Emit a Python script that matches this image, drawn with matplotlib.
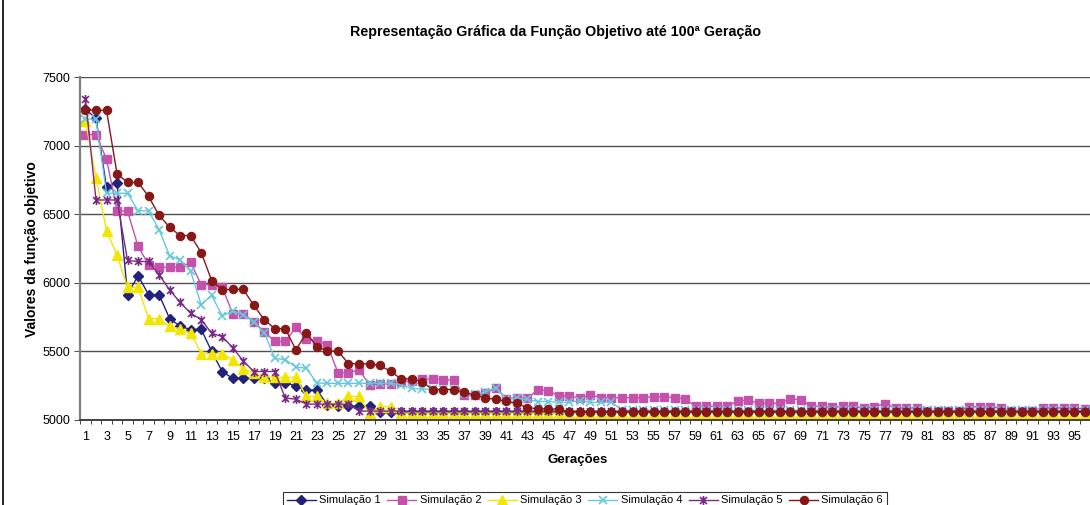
import numpy as np
import matplotlib
matplotlib.use('Agg')
import matplotlib.pyplot as plt
from matplotlib.path import Path
from matplotlib.lines import Line2D


geracoes = list(range(1, 101))

sim1 = [7269, 7201, 6700, 6731, 5915, 6054, 5915, 5915, 5740, 5685,
        5660, 5662, 5500, 5354, 5304, 5304, 5304, 5304, 5272, 5272,
        5248, 5219, 5219, 5110, 5101, 5101, 5101, 5100, 5058, 5058,
        5058, 5058, 5058, 5058, 5058, 5058, 5058, 5058, 5058, 5058,
        5058, 5058, 5058, 5058, 5058, 5058, 5058, 5058, 5058, 5058,
        5058, 5058, 5058, 5058, 5058, 5058, 5058, 5058, 5058, 5058,
        5058, 5058, 5058, 5058, 5058, 5058, 5058, 5058, 5058, 5058,
        5058, 5058, 5058, 5058, 5058, 5058, 5058, 5058, 5058, 5058,
        5058, 5058, 5058, 5058, 5058, 5058, 5058, 5058, 5058, 5058,
        5058, 5058, 5058, 5058, 5058, 5058, 5058, 5058, 5058, 5058]

sim2 = [7083, 7083, 6905, 6529, 6524, 6267, 6135, 6115, 6115, 6115,
        6150, 5987, 5987, 5968, 5776, 5776, 5716, 5645, 5573, 5573,
        5676, 5589, 5580, 5548, 5345, 5345, 5365, 5258, 5263, 5265,
        5280, 5284, 5296, 5300, 5292, 5292, 5182, 5182, 5194, 5236,
        5156, 5160, 5158, 5222, 5213, 5176, 5176, 5157, 5184, 5162,
        5162, 5162, 5163, 5163, 5170, 5170, 5163, 5154, 5100, 5100,
        5100, 5100, 5140, 5146, 5122, 5122, 5122, 5156, 5146, 5100,
        5100, 5092, 5100, 5100, 5087, 5097, 5119, 5088, 5088, 5088,
        5066, 5066, 5066, 5066, 5097, 5097, 5097, 5088, 5066, 5066,
        5066, 5088, 5088, 5088, 5088, 5080, 5080, 5080, 5080, 5080]

sim3 = [7182, 6770, 6383, 6203, 5968, 5968, 5739, 5739, 5683, 5666,
        5634, 5485, 5485, 5485, 5439, 5375, 5340, 5317, 5311, 5311,
        5311, 5172, 5172, 5122, 5122, 5172, 5172, 5050, 5098, 5098,
        5050, 5050, 5050, 5050, 5050, 5050, 5050, 5050, 5050, 5050,
        5050, 5050, 5050, 5050, 5050, 5050, 5050, 5050, 5050, 5050,
        5050, 5050, 5050, 5050, 5050, 5050, 5050, 5050, 5050, 5050,
        5050, 5050, 5050, 5050, 5050, 5050, 5050, 5050, 5050, 5050,
        5050, 5050, 5050, 5050, 5050, 5050, 5050, 5050, 5050, 5050,
        5050, 5050, 5050, 5050, 5050, 5050, 5050, 5050, 5050, 5050,
        5050, 5050, 5050, 5050, 5050, 5050, 5050, 5050, 5050, 5050]

sim4 = [7197, 7197, 6655, 6655, 6655, 6527, 6527, 6388, 6200, 6167,
        6085, 5842, 5910, 5760, 5795, 5770, 5712, 5638, 5450, 5440,
        5388, 5377, 5270, 5268, 5268, 5268, 5268, 5268, 5268, 5268,
        5256, 5230, 5226, 5224, 5224, 5224, 5190, 5190, 5205, 5236,
        5151, 5158, 5151, 5135, 5135, 5129, 5129, 5141, 5129, 5129,
        5129, 5072, 5072, 5072, 5072, 5072, 5072, 5072, 5072, 5072,
        5072, 5072, 5072, 5072, 5072, 5072, 5072, 5072, 5072, 5072,
        5072, 5072, 5072, 5072, 5072, 5072, 5072, 5072, 5072, 5072,
        5072, 5072, 5072, 5072, 5072, 5072, 5072, 5072, 5072, 5072,
        5072, 5072, 5072, 5072, 5072, 5072, 5072, 5072, 5072, 5072]

sim5 = [7346, 6606, 6606, 6606, 6165, 6157, 6157, 6060, 5950, 5858,
        5779, 5733, 5633, 5609, 5528, 5430, 5354, 5354, 5354, 5160,
        5152, 5116, 5116, 5116, 5116, 5116, 5065, 5065, 5065, 5065,
        5065, 5065, 5065, 5065, 5065, 5065, 5065, 5065, 5065, 5065,
        5065, 5065, 5065, 5065, 5065, 5065, 5065, 5065, 5065, 5065,
        5065, 5065, 5065, 5065, 5065, 5065, 5065, 5065, 5065, 5065,
        5065, 5065, 5065, 5065, 5065, 5065, 5065, 5065, 5065, 5065,
        5065, 5065, 5065, 5065, 5065, 5065, 5065, 5065, 5065, 5065,
        5065, 5065, 5065, 5065, 5065, 5065, 5065, 5065, 5065, 5065,
        5065, 5065, 5065, 5065, 5065, 5065, 5065, 5065, 5065, 5065]

sim6 = [7261, 7261, 7261, 6797, 6734, 6734, 6632, 6494, 6407, 6346,
        6346, 6222, 6018, 5952, 5953, 5953, 5838, 5731, 5667, 5667,
        5512, 5633, 5536, 5504, 5503, 5412, 5410, 5410, 5398, 5355,
        5300, 5300, 5280, 5222, 5222, 5222, 5202, 5184, 5161, 5151,
        5136, 5122, 5090, 5083, 5080, 5080, 5058, 5058, 5058, 5058,
        5058, 5058, 5058, 5058, 5058, 5058, 5058, 5058, 5058, 5058,
        5058, 5058, 5058, 5058, 5058, 5058, 5058, 5058, 5058, 5058,
        5058, 5058, 5058, 5058, 5058, 5058, 5058, 5058, 5058, 5058,
        5058, 5058, 5058, 5058, 5058, 5058, 5058, 5058, 5058, 5058,
        5058, 5058, 5058, 5058, 5058, 5058, 5058, 5058, 5058, 5058]

nomes = ['Simulação 1', 'Simulação 2', 'Simulação 3',
         'Simulação 4', 'Simulação 5', 'Simulação 6']

# labelled generations that fit inside the saved picture
rotulos_x = list(range(1, 96, 2))

plt.rcParams['font.family'] = ['Liberation Sans', 'DejaVu Sans']

# asterisk marker: an x with a vertical stroke
asterisco = Path([(-1, -1), (1, 1), (-1, 1), (1, -1), (0, -1.3), (0, 1.3)],
                 [Path.MOVETO, Path.LINETO, Path.MOVETO, Path.LINETO,
                  Path.MOVETO, Path.LINETO])

estilos = [
    dict(color='#22227a', marker='D', ms=4.8),
    dict(color='#c452aa', marker='s', ms=5.8),
    dict(color='#f2e600', marker='^', ms=6.8),
    dict(color='#66c8dc', marker='x', ms=5.8, mew=1.2),
    dict(color='#7a2a84', marker=asterisco, ms=6.5, mew=1.2, mfc='none'),
    dict(color='#861818', marker='o', ms=5.8),
]

fig = plt.figure(figsize=(10.9, 5.05), dpi=100)
# plot area runs past the right edge (generations 97-100 fall outside)
ax = fig.add_axes([80.2 / 1090, 85 / 505, 1052 / 1090, 342.5 / 505])

series = [sim1, sim2, sim3, sim4, sim5, sim6]
for valores, nome, est in zip(series, nomes, estilos):
    ax.plot(geracoes, valores, lw=1, label=nome, clip_on=False, **est)

ax.set_xlim(0.5, 100.5)
ax.set_ylim(5000, 7500)
ax.set_yticks(np.arange(5000, 7501, 500))
ax.yaxis.grid(True, color='#505050', lw=1)
ax.set_axisbelow(True)

ax.set_xticks(rotulos_x)
ax.set_xticklabels([str(g) for g in rotulos_x], fontsize=9)
ax.set_xticks(np.arange(0.5, 101, 1), minor=True)
ax.tick_params(axis='x', which='major', length=0, pad=8)
ax.tick_params(axis='x', which='minor', length=3, direction='out', color='#222222')
ax.tick_params(axis='y', length=4, direction='out', labelsize=9, pad=3, color='#555555')

for lado in ['top', 'right']:
    ax.spines[lado].set_visible(False)
ax.spines['left'].set_color('#808080')
ax.spines['left'].set_linewidth(1.6)
ax.spines['bottom'].set_color('#404040')
ax.spines['bottom'].set_linewidth(1.4)

fig.text(556 / 1090, 1 - 32 / 505,
         'Representação Gráfica da Função Objetivo até 100ª Geração',
         ha='center', va='center', fontsize=10.3, fontweight='bold')
fig.text(32 / 1090, 1 - 249 / 505, 'Valores da função objetivo',
         rotation=90, ha='center', va='center', fontsize=10, fontweight='bold')
fig.text(578 / 1090, 1 - 460 / 505, 'Gerações',
         ha='center', va='center', fontsize=9.5, fontweight='bold')

leg = fig.legend(loc='upper center', bbox_to_anchor=(585 / 1090, 1 - 486 / 505),
                 ncol=6, fontsize=8, frameon=True, fancybox=False,
                 edgecolor='black', handlelength=2.6, handletextpad=0.3,
                 columnspacing=0.6, borderpad=0.35)
leg.get_frame().set_linewidth(0.8)

# chart area border on the left
fig.add_artist(Line2D([2.5 / 1090, 2.5 / 1090], [0, 1], color='black', lw=1.2,
                      transform=fig.transFigure))

fig.savefig('out.png', dpi=100)
